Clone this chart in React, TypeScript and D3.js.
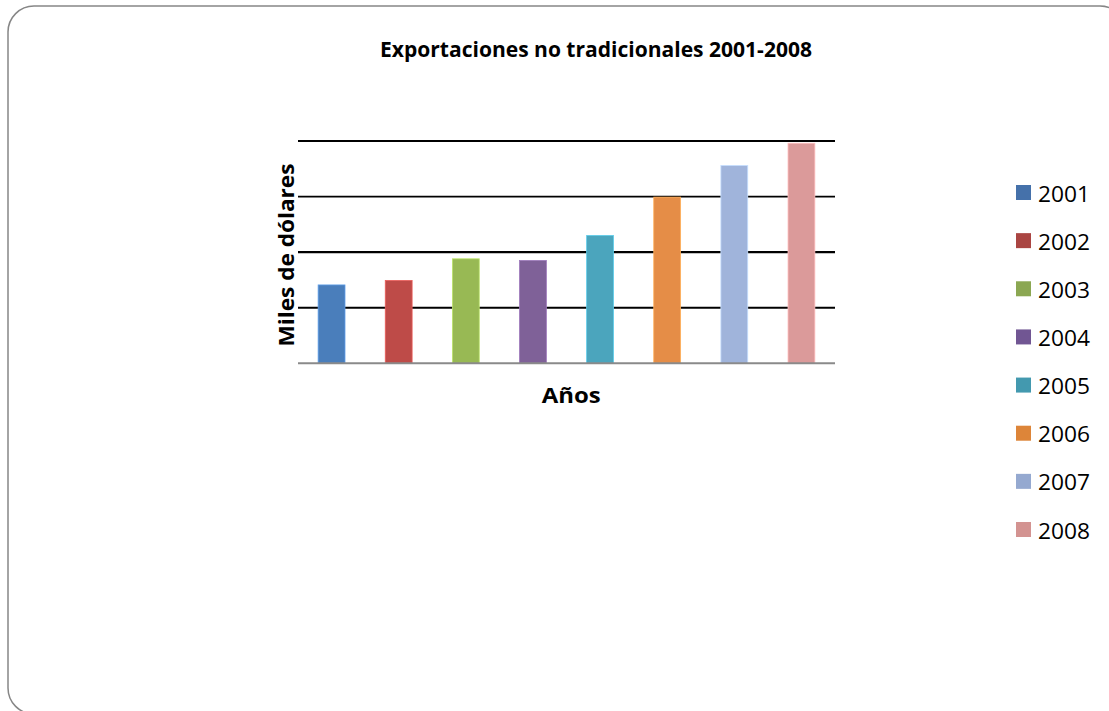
import React from "react";
import * as d3 from "d3";

const years = ["2001", "2002", "2003", "2004", "2005", "2006", "2007", "2008"];
const values = [1.41, 1.49, 1.88, 1.85, 2.3, 2.99, 3.56, 3.96];
const barColors = ["#4A7EBB", "#BE4B48", "#98B954", "#7F6198", "#4BA5BD", "#E58D47", "#A0B4DB", "#DB9A9A"];
const legendColors = ["#4571AA", "#AA4542", "#8BA752", "#715693", "#4399AF", "#DD8539", "#95A9D0", "#D39391"];
const gridTicks = [1, 2, 3, 4];

const W = 1109;
const H = 711;
const plot = { left: 298, right: 835, top: 141, bottom: 363.3 };
const font = "'Open Sans', Lato, sans-serif";

export default function App() {
  const x = d3.scaleBand<string>().domain(years).range([plot.left, plot.right]).paddingInner(0.6).paddingOuter(0.3);
  const y = d3.scaleLinear().domain([0, 4]).range([plot.bottom, plot.top]);
  const legendY = d3.scalePoint<string>().domain(years).range([192.5, 529.5]);

  return (
    <div style={{ position: "absolute", left: 0, top: 0 }}>
      <svg width={W} height={H} style={{ display: "block", background: "#fff" }}>
        <rect x={8} y={6} width={1118} height={708} rx={26} ry={26} fill="#fff" stroke="#868686" strokeWidth={1.5} />
        <text x={380} y={56.5} fontFamily={font} fontWeight={700} fontSize={20.5} fill="#000" textLength={432} lengthAdjust="spacingAndGlyphs">
          Exportaciones no tradicionales 2001-2008
        </text>
        {gridTicks.map((t) => (
          <line key={t} x1={plot.left} x2={plot.right} y1={y(t)} y2={y(t)} stroke="#000" strokeWidth={t === 2 ? 2.4 : 1.8} />
        ))}
        {years.map((yr, i) => (
          <rect
            key={yr}
            x={x(yr)}
            y={y(values[i])}
            width={x.bandwidth()}
            height={plot.bottom - y(values[i])}
            fill={barColors[i]}
            stroke={d3.color(barColors[i])!.brighter(0.6).formatHex()}
            strokeWidth={0.8}
          />
        ))}
        <line x1={plot.left} x2={plot.right} y1={plot.bottom} y2={plot.bottom} stroke="#8a8a8a" strokeWidth={2} />
        <text
          transform={`translate(294,255) rotate(-90)`}
          textAnchor="middle"
          fontFamily={font}
          fontWeight={700}
          fontSize={21.5}
          fill="#000"
          textLength={183}
          lengthAdjust="spacingAndGlyphs"
        >
          Miles de dólares
        </text>
        <text x={541.7} y={403} fontFamily={font} fontWeight={700} fontSize={21} fill="#000" textLength={59} lengthAdjust="spacingAndGlyphs">
          Años
        </text>
        {years.map((yr, i) => (
          <g key={yr} transform={`translate(1016,${legendY(yr)})`}>
            <rect x={0} y={-7.5} width={15} height={15} fill={legendColors[i]} />
            <text x={22} y={9} fontFamily={font} fontSize={22} fill="#000" textLength={52} lengthAdjust="spacingAndGlyphs">
              {yr}
            </text>
          </g>
        ))}
      </svg>
    </div>
  );
}
